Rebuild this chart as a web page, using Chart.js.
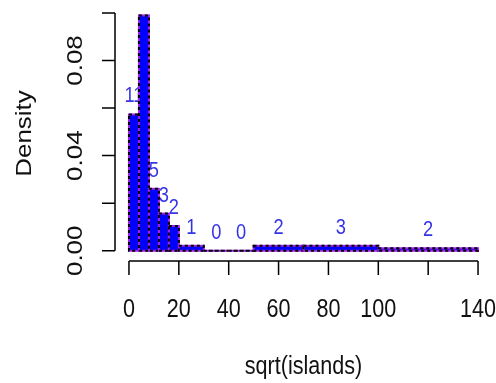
<!DOCTYPE html>
<html lang="en">

<head>
    <meta charset="UTF-8">
    <title>sqrt(islands)</title>
    <script src="https://cdn.jsdelivr.net/npm/chart.js"></script>
    <style>
        body { margin: 0; background: #fff; }
    </style>
</head>

<body>
    <canvas id="histChart" width="496" height="383"></canvas>

    <script>
        // histogram bins: break points and counts per bin
        const breaks = [0, 4, 8, 12, 16, 20, 30, 40, 50, 70, 100, 140];
        const counts = [11, 19, 5, 3, 2, 1, 0, 0, 2, 3, 2];
        const xTicks = [0, 20, 40, 60, 80, 100, 120, 140];
        const xTickLabels = ['0', '20', '40', '60', '80', '100', '', '140'];
        const yTicks = [0, 0.02, 0.04, 0.06, 0.08, 0.10];
        const yTickLabels = ['0.00', '', '0.04', '', '0.08', ''];

        const total = counts.reduce((a, b) => a + b, 0);
        const density = counts.map((c, i) => c / (total * (breaks[i + 1] - breaks[i])));

        // outline of the histogram as a polygon for the filled area
        const outline = [{ x: breaks[0], y: 0 }];
        density.forEach((d, i) => {
            outline.push({ x: breaks[i], y: d });
            outline.push({ x: breaks[i + 1], y: d });
        });
        outline.push({ x: breaks[breaks.length - 1], y: 0 });

        const FONT = '"Liberation Sans", Arial, sans-serif';
        const SQUEEZE = 0.83; // narrow text look

        function drawText(ctx, str, x, y, size, color, rotated, baseline) {
            ctx.save();
            ctx.translate(x, y);
            ctx.scale(SQUEEZE, 1);
            if (rotated) ctx.rotate(-Math.PI / 2);
            ctx.font = size + 'px ' + FONT;
            ctx.fillStyle = color;
            ctx.textAlign = 'center';
            ctx.textBaseline = baseline || 'middle';
            ctx.fillText(str, 0, 0);
            ctx.restore();
        }

        // count labels go under the bars (clipped to the plot area), outlines on top
        const histPlugin = {
            id: 'hist',
            beforeDatasetsDraw(chart) {
                const { ctx, chartArea, scales: { x, y } } = chart;
                ctx.save();
                ctx.beginPath();
                ctx.rect(chartArea.left, chartArea.top, chartArea.right - chartArea.left, chartArea.bottom - chartArea.top);
                ctx.clip();
                counts.forEach((c, i) => {
                    const mid = (breaks[i] + breaks[i + 1]) / 2;
                    drawText(ctx, String(c), x.getPixelForValue(mid), y.getPixelForValue(density[i]) - 12,
                        22, '#3434e6', false, 'alphabetic');
                });
                ctx.restore();
            },
            afterDatasetsDraw(chart) {
                const { ctx, scales: { x, y } } = chart;
                ctx.save();
                ctx.lineWidth = 2;
                density.forEach((d, i) => {
                    const x0 = x.getPixelForValue(breaks[i]);
                    const x1 = x.getPixelForValue(breaks[i + 1]);
                    const y0 = y.getPixelForValue(0);
                    const y1 = y.getPixelForValue(d);
                    ctx.setLineDash([]);
                    ctx.strokeStyle = '#a020f0';
                    ctx.strokeRect(x0, y1, x1 - x0, y0 - y1);
                    ctx.setLineDash([3, 3]);
                    ctx.strokeStyle = '#000';
                    ctx.strokeRect(x0, y1, x1 - x0, y0 - y1);
                });
                ctx.restore();
            },
            afterDraw(chart) {
                const { ctx, chartArea, scales: { x, y } } = chart;
                ctx.save();
                ctx.strokeStyle = '#000';
                ctx.lineWidth = 1.5;

                // x axis
                const ax = chartArea.bottom;
                ctx.beginPath();
                ctx.moveTo(x.getPixelForValue(xTicks[0]), ax);
                ctx.lineTo(x.getPixelForValue(xTicks[xTicks.length - 1]), ax);
                xTicks.forEach(v => {
                    const px = x.getPixelForValue(v);
                    ctx.moveTo(px, ax);
                    ctx.lineTo(px, ax + 14);
                });
                ctx.stroke();
                xTicks.forEach((v, i) => {
                    if (xTickLabels[i]) drawText(ctx, xTickLabels[i], x.getPixelForValue(v), 310, 26, '#111');
                });

                // y axis
                const ay = chartArea.left;
                ctx.beginPath();
                ctx.moveTo(ay, y.getPixelForValue(yTicks[0]));
                ctx.lineTo(ay, y.getPixelForValue(yTicks[yTicks.length - 1]));
                yTicks.forEach(v => {
                    const py = y.getPixelForValue(v);
                    ctx.moveTo(ay, py);
                    ctx.lineTo(ay - 13, py);
                });
                ctx.stroke();
                yTicks.forEach((v, i) => {
                    if (yTickLabels[i]) drawText(ctx, yTickLabels[i], 76, y.getPixelForValue(v), 26, '#111', true);
                });

                // axis titles
                drawText(ctx, 'sqrt(islands)', (chartArea.left + chartArea.right) / 2, 367, 26, '#111');
                drawText(ctx, 'Density', 25, (chartArea.top + chartArea.bottom) / 2, 26, '#111', true);
                ctx.restore();
            }
        };

        new Chart(document.getElementById('histChart'), {
            type: 'line',
            data: {
                datasets: [{
                    data: outline,
                    backgroundColor: '#0000ff',
                    borderWidth: 0,
                    pointRadius: 0,
                    fill: 'origin',
                    tension: 0
                }]
            },
            options: {
                responsive: false,
                animation: false,
                events: [],
                layout: { padding: { left: 115, right: 4, top: 6, bottom: 122 } },
                scales: {
                    x: { type: 'linear', min: -5.6, max: 145.6, display: false },
                    y: { min: -0.0043, max: 0.1029, display: false }
                },
                plugins: {
                    legend: { display: false },
                    tooltip: { enabled: false }
                }
            },
            plugins: [histPlugin]
        });
    </script>
</body>

</html>
